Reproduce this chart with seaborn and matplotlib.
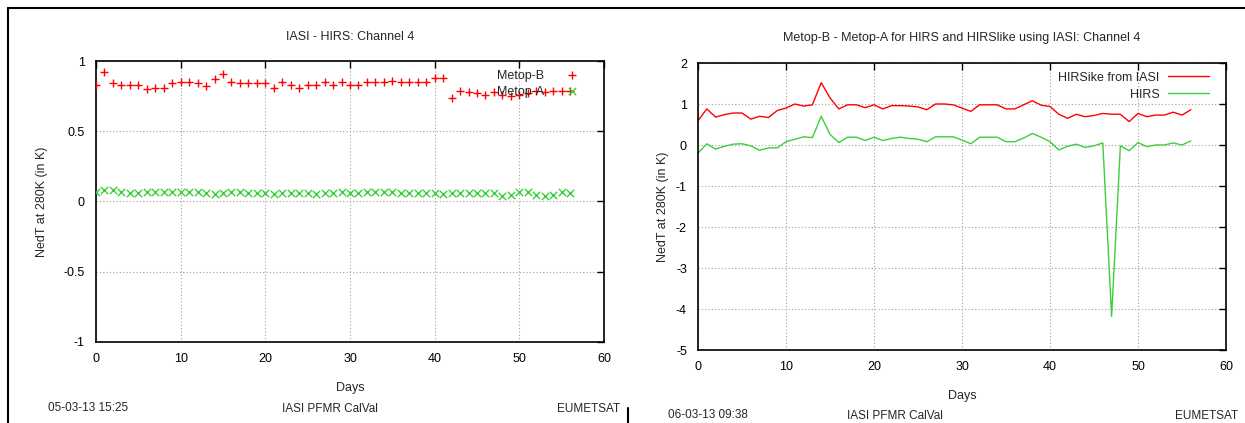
import matplotlib
matplotlib.use("Agg")
import matplotlib.pyplot as plt
import seaborn as sns
import pandas as pd
from matplotlib.lines import Line2D

# ---------------- data ----------------
days = list(range(57))

metop_b = [0.83, 0.92, 0.84, 0.83, 0.83, 0.83, 0.80, 0.81, 0.81, 0.84,
           0.85, 0.85, 0.84, 0.82, 0.87, 0.91, 0.85, 0.84, 0.84, 0.84,
           0.84, 0.81, 0.85, 0.83, 0.81, 0.83, 0.83, 0.85, 0.83, 0.85,
           0.83, 0.83, 0.85, 0.85, 0.85, 0.86, 0.85, 0.85, 0.85, 0.85,
           0.88, 0.88, 0.74, 0.79, 0.78, 0.77, 0.76, 0.78, 0.76, 0.75,
           0.76, 0.77, 0.79, 0.78, 0.79, 0.79, 0.79]

metop_a = [0.065, 0.083, 0.083, 0.065, 0.060, 0.060, 0.070, 0.070, 0.070, 0.070,
           0.070, 0.068, 0.065, 0.060, 0.055, 0.060, 0.065, 0.065, 0.060, 0.060,
           0.060, 0.055, 0.060, 0.060, 0.060, 0.060, 0.055, 0.060, 0.060, 0.065,
           0.060, 0.060, 0.065, 0.065, 0.065, 0.065, 0.060, 0.060, 0.060, 0.060,
           0.060, 0.055, 0.060, 0.060, 0.060, 0.060, 0.060, 0.060, 0.036, 0.047,
           0.065, 0.065, 0.047, 0.040, 0.047, 0.065, 0.060]

hirslike = [0.59, 0.88, 0.68, 0.74, 0.78, 0.78, 0.63, 0.70, 0.67, 0.84,
            0.90, 1.00, 0.95, 0.98, 1.52, 1.15, 0.88, 0.98, 0.98, 0.91,
            0.98, 0.88, 0.96, 0.96, 0.95, 0.93, 0.86, 1.00, 1.00, 0.98,
            0.90, 0.82, 0.98, 0.98, 0.98, 0.88, 0.88, 0.98, 1.08, 0.97,
            0.94, 0.75, 0.65, 0.75, 0.69, 0.72, 0.77, 0.75, 0.75, 0.57,
            0.77, 0.69, 0.73, 0.73, 0.80, 0.73, 0.86]

hirs = [-0.20, 0.03, -0.10, -0.03, 0.02, 0.03, -0.02, -0.13, -0.07, -0.07,
        0.08, 0.14, 0.20, 0.18, 0.70, 0.26, 0.06, 0.19, 0.19, 0.11,
        0.19, 0.11, 0.16, 0.19, 0.16, 0.14, 0.08, 0.20, 0.20, 0.20,
        0.12, 0.03, 0.19, 0.19, 0.19, 0.08, 0.08, 0.17, 0.28, 0.19,
        0.08, -0.12, -0.03, 0.02, -0.06, -0.02, 0.05, -4.18, -0.02, -0.14,
        0.06, -0.04, 0.00, 0.00, 0.05, 0.00, 0.10]

left_title = "IASI - HIRS: Channel 4"
right_title = "Metop-B - Metop-A for HIRS and HIRSlike using IASI: Channel 4"
ylabel = "NedT at 280K (in K)"
xlabel = "Days"
left_yticks = [-1, -0.5, 0, 0.5, 1]
left_yticklabels = ["-1", "-0.5", "0", "0.5", "1"]
right_yticks = [-5, -4, -3, -2, -1, 0, 1, 2]
xticks = [0, 10, 20, 30, 40, 50, 60]

# ---------------- style ----------------
sns.set_style("white")
plt.rcParams["font.family"] = ["Liberation Sans", "DejaVu Sans"]
plt.rcParams["font.size"] = 9
plt.rcParams["axes.unicode_minus"] = False

RED = "#ff0000"
GREEN = "#3ccf3c"

W, H = 1245, 423
fig = plt.figure(figsize=(W / 100, H / 100), dpi=100)
fig.patch.set_facecolor("white")


def px_axes(l, t, r, b):
    return fig.add_axes([l / W, 1 - b / H, (r - l) / W, (b - t) / H])


ax1 = px_axes(96, 61, 604, 342)
ax2 = px_axes(698, 63, 1226, 350)

df_l = pd.DataFrame({"day": days, "Metop-B": metop_b, "Metop-A": metop_a})
df_r = pd.DataFrame({"day": days, "HIRSike from IASI": hirslike, "HIRS": hirs})

# left panel
sns.scatterplot(data=df_l, x="day", y="Metop-B", ax=ax1, marker="+", color=RED,
                s=40, linewidth=1.0, label="Metop-B", zorder=3)
sns.scatterplot(data=df_l, x="day", y="Metop-A", ax=ax1, marker="x", color=GREEN,
                s=28, linewidth=1.0, label="Metop-A", zorder=3)
ax1.set_xlim(0, 60)
ax1.set_ylim(-1, 1)
ax1.set_yticks(left_yticks)
ax1.set_yticklabels(left_yticklabels)
ax1.set_xticks(xticks)

# right panel
sns.lineplot(data=df_r, x="day", y="HIRSike from IASI", ax=ax2, color=RED,
             linewidth=1.0, label="HIRSike from IASI")
sns.lineplot(data=df_r, x="day", y="HIRS", ax=ax2, color=GREEN,
             linewidth=1.0, label="HIRS")
ax2.set_xlim(0, 60)
ax2.set_ylim(-5, 2)
ax2.set_yticks(right_yticks)
ax2.set_xticks(xticks)

for ax, title, tpad, ylpad in ((ax1, left_title, 15, 11), (ax2, right_title, 16, 5)):
    ax.set_title(title, fontsize=9, pad=tpad)
    ax.set_xlabel(xlabel, fontsize=9, labelpad=12)
    ax.set_ylabel(ylabel, fontsize=9, labelpad=ylpad)
    ax.grid(True, color="#a0a0a0", linestyle=(0, (1, 2)), linewidth=0.8)
    ax.tick_params(direction="in", length=5, width=1, top=True, right=True,
                   labelsize=9, pad=8, colors="black")
    for s in ax.spines.values():
        s.set_color("black")
        s.set_linewidth(1.2)

ax1.legend(loc="upper right", frameon=False, markerfirst=False,
           fontsize=9, handlelength=2.5, borderaxespad=0.3,
           labelspacing=0.3, handletextpad=1.0,
           bbox_to_anchor=(0.985, 1.0))
ax2.legend(loc="upper right", frameon=False, markerfirst=False,
           fontsize=9, handlelength=3.3, borderaxespad=0.3,
           labelspacing=0.4, handletextpad=0.7,
           bbox_to_anchor=(0.985, 1.0))

# footer texts
fig.text(48 / W, 1 - 408 / H, "05-03-13 15:25", fontsize=8.5, va="center", ha="left")
fig.text(330 / W, 1 - 409 / H, "IASI PFMR CalVal", fontsize=8.5, va="center", ha="center")
fig.text(620 / W, 1 - 409 / H, "EUMETSAT", fontsize=8.5, va="center", ha="right")
fig.text(668 / W, 1 - 415 / H, "06-03-13 09:38", fontsize=8.5, va="center", ha="left")
fig.text(895 / W, 1 - 416 / H, "IASI PFMR CalVal", fontsize=8.5, va="center", ha="center")
fig.text(1238 / W, 1 - 416 / H, "EUMETSAT", fontsize=8.5, va="center", ha="right")

# screenshot frame lines
fig.add_artist(Line2D([8 / W, 1.0], [1 - 8 / H, 1 - 8 / H], color="black", linewidth=1.5,
                      transform=fig.transFigure))
fig.add_artist(Line2D([8 / W, 8 / W], [0, 1 - 8 / H], color="black", linewidth=1.5,
                      transform=fig.transFigure))
fig.add_artist(Line2D([628 / W, 628 / W], [0, 1 - 408 / H], color="black", linewidth=1.5,
                      transform=fig.transFigure))

fig.savefig("out.png", dpi=100)
